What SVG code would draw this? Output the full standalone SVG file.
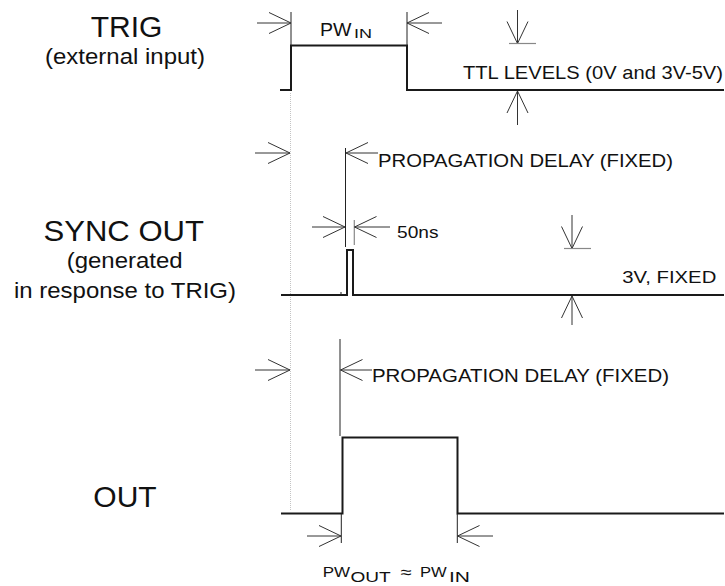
<svg xmlns="http://www.w3.org/2000/svg" width="725" height="586" viewBox="0 0 725 586">
<style>
text{font-family:"Liberation Sans",Arial,sans-serif;fill:#111}
.wave{fill:none;stroke:#1a1a1a;stroke-width:2}
.dim{fill:none;stroke:#333;stroke-width:1;marker-end:url(#arr)}
.tick{fill:none;stroke:#222;stroke-width:1}
.gtick{fill:none;stroke:#888;stroke-width:1.2}
.guide{fill:none;stroke:#c4c4c4;stroke-width:1;stroke-dasharray:1 1}
.big{font-size:30px}
.sub{font-size:21.5px}
.ann{font-size:19px}
</style>
<defs>
<marker id="arr" markerUnits="userSpaceOnUse" viewBox="-24 -12 25 24" markerWidth="25" markerHeight="24" refX="0" refY="0" orient="auto" overflow="visible">
<path d="M-22,-10.5 L0,0 L-22,10.5" fill="none" stroke="#333" stroke-width="1"/>
</marker>
</defs>

<g id="labels">
<g id="trig-label">
<text class="big" x="126.5" y="36.7" text-anchor="middle">TRIG</text>
<text class="sub" x="45" y="64" textLength="160" lengthAdjust="spacingAndGlyphs">(external input)</text>
</g>
<g id="sync-label">
<text class="big" x="43.5" y="240.5" font-size="29" textLength="160.5" lengthAdjust="spacingAndGlyphs">SYNC OUT</text>
<text class="sub" x="66.7" y="268" textLength="116" lengthAdjust="spacingAndGlyphs">(generated</text>
<text class="sub" x="14" y="298" textLength="222" lengthAdjust="spacingAndGlyphs">in response to TRIG)</text>
</g>
<g id="out-label">
<text class="big" x="125" y="507" text-anchor="middle">OUT</text>
</g>
</g>

<line id="guide" class="guide" x1="290.5" y1="93" x2="290.5" y2="510"/>

<g id="trig-wave">
<path class="wave" d="M280,90 H291 V45.5 H407 V90 H724"/>
</g>
<g id="sync-wave">
<path class="wave" d="M281,295 H347 V250 H353 V295 H724"/>
<path class="tick" d="M341,295 V292" stroke-width="1.5"/>
</g>
<g id="out-wave">
<path class="wave" d="M281,513.5 H342.5 V437.5 H457.5 V513.5 H724"/>
</g>

<g id="connectors">
<!-- PW_IN -->
<line class="tick" x1="291" y1="12" x2="291" y2="45"/>
<line class="dim" x1="257" y1="23" x2="291" y2="23"/>
<line class="tick" x1="407" y1="12" x2="407" y2="45"/>
<line class="dim" x1="442" y1="23" x2="407" y2="23"/>
<!-- TTL levels -->
<line class="dim" x1="517.5" y1="10" x2="517.5" y2="43.5"/>
<line class="gtick" x1="509" y1="43.5" x2="536" y2="43.5"/>
<line class="dim" x1="517.5" y1="125" x2="517.5" y2="91"/>
<!-- top propagation delay -->
<line class="dim" x1="255" y1="153" x2="290" y2="153"/>
<line class="tick" x1="345.5" y1="148" x2="345.5" y2="247"/>
<line class="dim" x1="378" y1="153" x2="346" y2="153"/>
<!-- 50ns -->
<line class="dim" x1="312" y1="227" x2="345" y2="227"/>
<line class="gtick" x1="354.3" y1="220" x2="354.3" y2="245"/>
<line class="dim" x1="390" y1="227" x2="354.5" y2="227"/>
<!-- 3V fixed -->
<line class="dim" x1="572" y1="215" x2="572" y2="248.5"/>
<line class="gtick" x1="564" y1="248.5" x2="591" y2="248.5"/>
<line class="dim" x1="572" y1="325" x2="572" y2="296"/>
<!-- middle propagation delay -->
<line class="dim" x1="255" y1="370" x2="290" y2="370"/>
<line class="tick" x1="340" y1="339" x2="340" y2="436"/>
<line class="dim" x1="372" y1="370" x2="340.5" y2="370"/>
<!-- PW_OUT -->
<line class="tick" x1="341.3" y1="514" x2="341.3" y2="543"/>
<line class="dim" x1="307" y1="536" x2="341" y2="536"/>
<line class="tick" x1="457.3" y1="514" x2="457.3" y2="543"/>
<line class="dim" x1="493" y1="536" x2="457.5" y2="536"/>
</g>

<g id="annotations">
<text x="320" y="36" font-size="17.5" textLength="31.5" lengthAdjust="spacingAndGlyphs">PW</text>
<text x="354" y="37.5" font-size="13" textLength="18" lengthAdjust="spacingAndGlyphs">IN</text>
<text class="ann" x="463" y="79" textLength="260" lengthAdjust="spacingAndGlyphs">TTL LEVELS (0V and 3V-5V)</text>
<text class="ann" x="378" y="167" textLength="295" lengthAdjust="spacingAndGlyphs">PROPAGATION DELAY (FIXED)</text>
<text x="397" y="238.3" font-size="17" textLength="41.5" lengthAdjust="spacingAndGlyphs">50ns</text>
<text x="622.3" y="283.3" font-size="17" textLength="94" lengthAdjust="spacingAndGlyphs">3V, FIXED</text>
<text class="ann" x="372" y="382" textLength="297" lengthAdjust="spacingAndGlyphs">PROPAGATION DELAY (FIXED)</text>
<text x="322.7" y="577.3" font-size="15.5" textLength="27.3" lengthAdjust="spacingAndGlyphs">PW</text>
<text x="350.5" y="582" font-size="15" textLength="40.2" lengthAdjust="spacingAndGlyphs">OUT</text>
<text x="400.5" y="578" font-size="17" textLength="11" lengthAdjust="spacingAndGlyphs">≈</text>
<text x="420" y="577.3" font-size="15.5" textLength="26.7" lengthAdjust="spacingAndGlyphs">PW</text>
<text x="449" y="582" font-size="15" textLength="21" lengthAdjust="spacingAndGlyphs">IN</text>
</g>
</svg>
